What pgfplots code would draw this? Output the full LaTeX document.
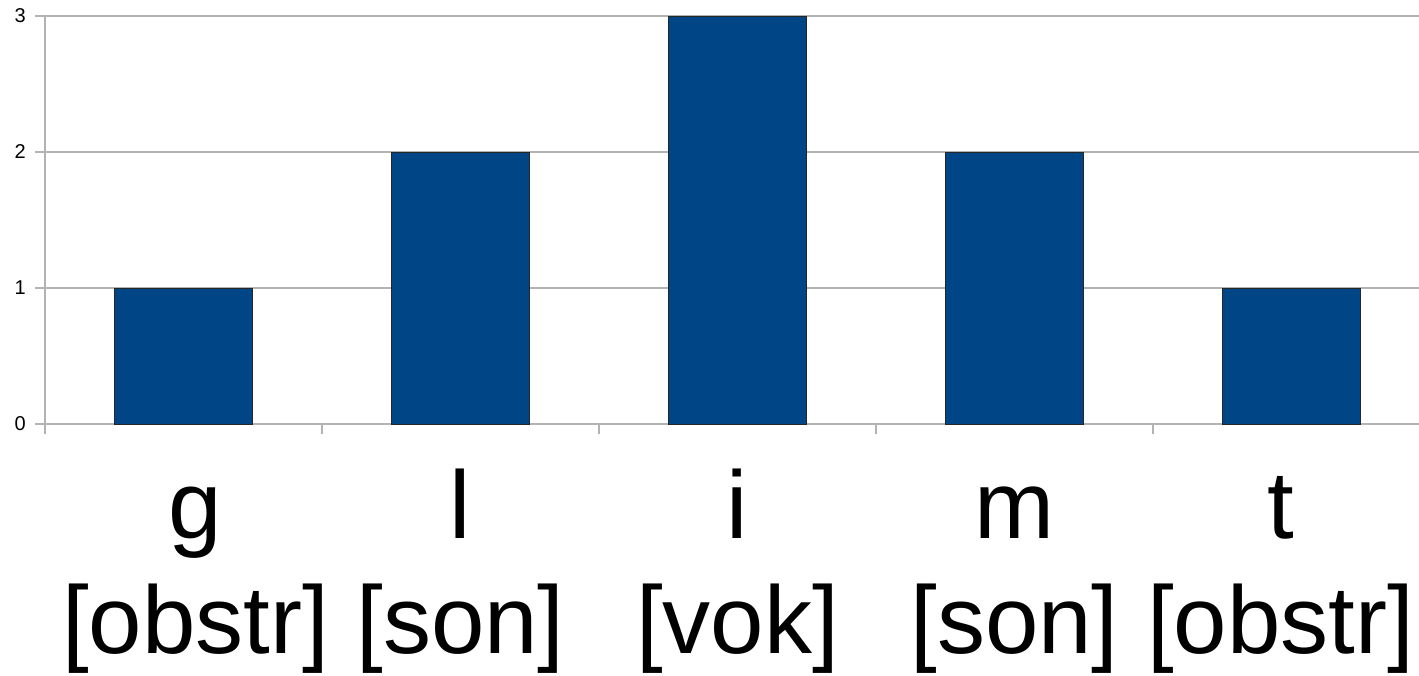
\documentclass[border=0pt]{standalone}
\usepackage{pgfplots}
\pgfplotsset{compat=1.18}
\usepackage{fontspec}
\setmainfont{Liberation Sans}
\definecolor{barblue}{HTML}{004586}
\definecolor{axgray}{HTML}{B3B3B3}
\begin{document}
\begin{tikzpicture}
\begin{axis}[
  scale only axis,
  width=1385pt, height=408pt,
  at={(0,0)}, anchor=south west,
  xmin=-0.5, xmax=4.5, ymin=0, ymax=3,
  axis x line*=bottom, axis y line*=left,
  axis line style={-, draw=axgray, line width=1.2pt},
  xtick={0,1,2,3,4},
  xticklabels={{\strut g\\{}[obstr]},{\strut l\\{}[son]},{\strut i\\{}[vok]},{\strut m\\{}[son]},{\strut t\\{}[obstr]}},
  minor xtick={-0.5,0.5,1.5,2.5,3.5},
  major x tick style={draw=none},
  minor x tick style={draw=axgray, line width=1.2pt},
  ytick={0,1,2,3},
  y tick style={draw=axgray, line width=1.2pt},
  tick align=outside,
  major tick length=10pt, minor tick length=10pt,
  ymajorgrids,
  grid style={draw=axgray, line width=1.2pt},
  /pgf/number format/assume math mode=true,
  yticklabel style={font=\fontsize{20}{24}\selectfont, inner sep=0pt, xshift=-9pt},
  xticklabel style={font=\fontsize{96}{115}\selectfont, align=center, inner sep=0pt, anchor=north, yshift=-24pt,
    xshift={(12*(\ticknum==0)-11*(\ticknum==4))*1pt}},
  ybar, bar width=0.5,
  clip=false,
]
\addplot[fill=barblue, draw=black!85, line width=1pt] coordinates {(0,1) (1,2) (2,3) (3,2) (4,1)};
\end{axis}
\pgfresetboundingbox
\path (-45pt,-251pt) rectangle (1374pt,424pt);
\end{tikzpicture}
\end{document}
